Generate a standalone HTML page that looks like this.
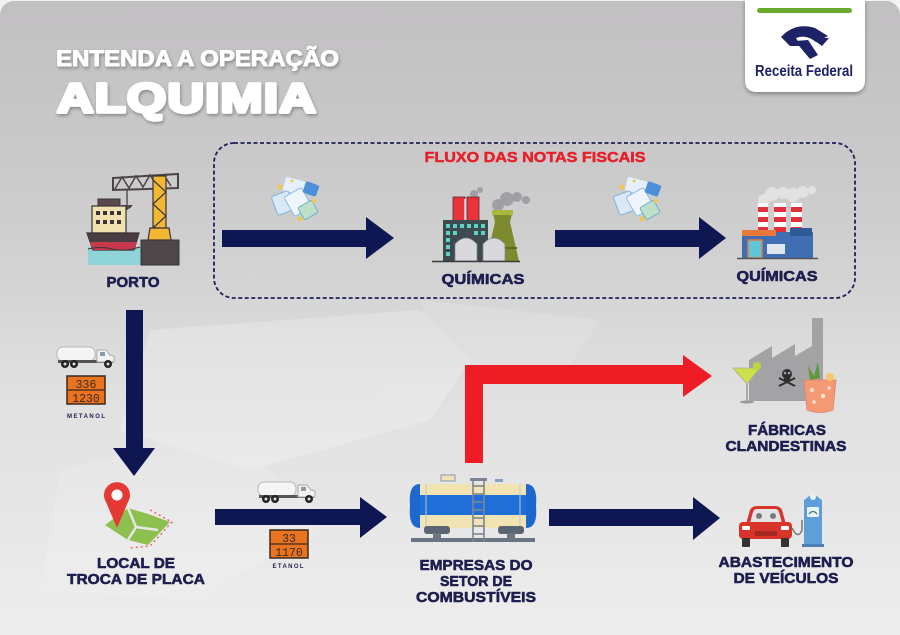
<!DOCTYPE html>
<html><head><meta charset="utf-8"><style>
html,body{margin:0;padding:0;width:900px;height:635px;overflow:hidden;background:#f2f2f2}
svg{display:block}
text{font-family:"Liberation Sans",sans-serif;font-weight:bold}
.l{fill:#1e1f4f;stroke:#1e1f4f;stroke-width:0.6;stroke-linejoin:round}
</style></head><body>
<svg width="900" height="635" viewBox="0 0 900 635" xmlns="http://www.w3.org/2000/svg">
<defs>
<linearGradient id="bg" x1="0" y1="0" x2="0" y2="1">
<stop offset="0" stop-color="#c1bfc1"/>
<stop offset="0.35" stop-color="#cfcecf"/>
<stop offset="0.6" stop-color="#e0e0e0"/>
<stop offset="1" stop-color="#eeeeee"/>
</linearGradient>
<filter id="ts" x="-10%" y="-30%" width="120%" height="160%"><feDropShadow dx="1" dy="2" stdDeviation="1.5" flood-color="#000" flood-opacity="0.3"/></filter>
<filter id="cs" x="-20%" y="-20%" width="140%" height="150%"><feDropShadow dx="0" dy="2" stdDeviation="2" flood-color="#000" flood-opacity="0.35"/></filter>
</defs>
<rect width="900" height="635" fill="#f2f2f2"/>
<rect x="0" y="1" width="900" height="650" rx="14" fill="url(#bg)"/>

<!-- faint watermark -->
<g fill="#ffffff" opacity="0.22">
<path d="M150,330 L420,310 L470,360 L430,420 L250,470 L120,430 Z"/>
<path d="M420,300 L600,320 L560,380 L440,360 Z" opacity="0.6"/>
<path d="M60,470 L220,430 L330,520 L200,600 L40,590 Z" opacity="0.5"/>
</g>

<!-- Title -->
<g filter="url(#ts)" fill="#fff" stroke="#fff" stroke-linejoin="round">
<text x="56" y="66" font-size="22" stroke-width="0.9" textLength="283" lengthAdjust="spacingAndGlyphs">ENTENDA A OPERAÇÃO</text>
<text x="57" y="112" font-size="41" stroke-width="3.4" textLength="260" lengthAdjust="spacingAndGlyphs" letter-spacing="1">ALQUIMIA</text>
</g>

<!-- Logo card -->
<path d="M745,0 H865 V80 Q865,92 853,92 H757 Q745,92 745,80 Z" fill="#fff" filter="url(#cs)"/>
<rect x="757" y="8" width="95" height="5" rx="2.5" fill="#6aab2e"/>
<g fill="#1e2266">
<path d="M781,37 Q795,22 815,28 L828,36 L816,42 Q806,34 796,38 L801,46 L790,46 Z"/>
<path d="M795,41 L808,40 L818,55 L810,59 Z"/>
<path d="M811,38 L829,38 L822,46 Z"/>
</g>
<text x="804" y="76" font-size="16" fill="#1e2266" text-anchor="middle" textLength="98" lengthAdjust="spacingAndGlyphs">Receita Federal</text>

<!-- Dashed box -->
<rect x="214" y="143" width="641" height="155" rx="20" fill="none" stroke="#1e2255" stroke-width="1.8" stroke-dasharray="4 2.5"/>
<text x="535" y="162" font-size="14.5" fill="#e8202a" stroke="#e8202a" stroke-width="0.5" text-anchor="middle" textLength="221" lengthAdjust="spacingAndGlyphs">FLUXO DAS NOTAS FISCAIS</text>

<!-- Arrows navy -->
<g fill="#0f1752">
<polygon points="222,230 366,230 366,217 394,238 366,259 366,247 222,247"/>
<polygon points="555,230 699,230 699,217 726,238 699,259 699,247 555,247"/>
<polygon points="126,310 143,310 143,448 155,448 134,476 113,448 126,448"/>
<polygon points="215,509 360,509 360,497 387,517 360,538 360,525 215,525"/>
<polygon points="549,509 693,509 693,497 720,518 693,540 693,526 549,526"/>
</g>
<!-- Red arrow -->
<polygon points="465,463 465,365 683,365 683,355 712,376 683,397 683,384 483,384 483,463" fill="#ee1c25"/>

<!-- Document icons -->
<g>
<g transform="translate(270,175)">
<rect x="14" y="4" width="20" height="14" rx="2" fill="#e6f0fa" transform="rotate(15 24 11)"/>
<rect x="4" y="18" width="18" height="20" rx="2" fill="#dbe9f7" stroke="#7fb2dd" stroke-width="1" transform="rotate(-20 13 28)"/>
<rect x="18" y="16" width="20" height="22" rx="2" fill="#eef5fc" stroke="#8abbe2" stroke-width="1" transform="rotate(-30 28 27)"/>
<rect x="30" y="28" width="16" height="14" rx="2" fill="#bfe0c8" stroke="#6cb0c8" stroke-width="1" transform="rotate(-30 38 35)"/>
<rect x="34" y="8" width="14" height="12" rx="2" fill="#4a8fd8" transform="rotate(20 41 14)"/>
<circle cx="10" cy="12" r="2.5" fill="#f3c74f"/>
<circle cx="30" cy="44" r="2.5" fill="#f3c74f"/>
<circle cx="44" cy="26" r="2" fill="#f3c74f"/>
<circle cx="22" cy="6" r="1.5" fill="#f3c74f"/>
</g>
<g transform="translate(612,175)">
<rect x="14" y="4" width="20" height="14" rx="2" fill="#e6f0fa" transform="rotate(15 24 11)"/>
<rect x="4" y="18" width="18" height="20" rx="2" fill="#dbe9f7" stroke="#7fb2dd" stroke-width="1" transform="rotate(-20 13 28)"/>
<rect x="18" y="16" width="20" height="22" rx="2" fill="#eef5fc" stroke="#8abbe2" stroke-width="1" transform="rotate(-30 28 27)"/>
<rect x="30" y="28" width="16" height="14" rx="2" fill="#bfe0c8" stroke="#6cb0c8" stroke-width="1" transform="rotate(-30 38 35)"/>
<rect x="34" y="8" width="14" height="12" rx="2" fill="#4a8fd8" transform="rotate(20 41 14)"/>
<circle cx="10" cy="12" r="2.5" fill="#f3c74f"/>
<circle cx="30" cy="44" r="2.5" fill="#f3c74f"/>
<circle cx="44" cy="26" r="2" fill="#f3c74f"/>
<circle cx="22" cy="6" r="1.5" fill="#f3c74f"/>
</g>
</g>

<!-- PORTO icon -->
<g>
<rect x="88" y="247" width="56" height="18" fill="#8fd4d8"/>
<rect x="141" y="240" width="38" height="25" fill="#4d474a" stroke="#3a3336" stroke-width="1"/>
<path d="M113,178 L178,174 L178,188 L113,190 Z" fill="none" stroke="#4b4547" stroke-width="2"/>
<path d="M115,189 L122,177 L129,188 L136,176 L143,187 L150,175 L157,186 L164,175 L171,186" fill="none" stroke="#4b4547" stroke-width="1.5"/>
<rect x="153" y="176" width="13" height="52" fill="#f3b833" stroke="#3a3336" stroke-width="1.2"/>
<path d="M153,180 L166,192 L153,204 L166,216 L153,228" fill="none" stroke="#3a3336" stroke-width="1.2"/>
<path d="M150,228 L169,228 L171,240 L148,240 Z" fill="#f3b833" stroke="#3a3336" stroke-width="1.2"/>
<line x1="127" y1="190" x2="127" y2="210" stroke="#3a3336" stroke-width="1.2"/>
<path d="M122,205 Q128,212 132,205" fill="#5a4a4c" stroke="#3a3336" stroke-width="1"/>
<rect x="98" y="199" width="22" height="7" fill="#5a4a4c" stroke="#3a3336" stroke-width="1"/>
<rect x="92" y="206" width="34" height="27" fill="#f1e0b0" stroke="#3a3336" stroke-width="1.2"/>
<g fill="#3a3336">
<rect x="96" y="211" width="4" height="4"/><rect x="103" y="211" width="4" height="4"/><rect x="110" y="211" width="4" height="4"/><rect x="117" y="211" width="4" height="4"/>
<rect x="96" y="220" width="4" height="4"/><rect x="103" y="220" width="4" height="4"/><rect x="110" y="220" width="4" height="4"/><rect x="117" y="220" width="4" height="4"/>
</g>
<path d="M87,233 L139,233 L134,250 L93,250 Z" fill="#4a3e42" stroke="#3a3336" stroke-width="1.2"/>
<path d="M90,242 L137,242 L134,250 L93,250 Z" fill="#c73a4d"/>
<path d="M88,249 Q100,246 112,249 Q124,252 140,247" fill="none" stroke="#3a3336" stroke-width="1"/>
</g>
<text class="l" x="133" y="287" font-size="15" text-anchor="middle" textLength="53" lengthAdjust="spacingAndGlyphs">PORTO</text>

<!-- Factory 1 -->
<g>
<g fill="#9c9ca0" opacity="0.9">
<circle cx="498" cy="205" r="6"/><circle cx="507" cy="199" r="7"/><circle cx="517" cy="197" r="5"/><circle cx="526" cy="200" r="4"/><circle cx="474" cy="194" r="4"/><circle cx="480" cy="190" r="3"/>
</g>
<rect x="453" y="197" width="12" height="24" fill="#e8323c" stroke="#5a2a2a" stroke-width="0.8"/>
<rect x="467" y="197" width="12" height="24" fill="#e8323c" stroke="#5a2a2a" stroke-width="0.8"/>
<line x1="465" y1="199" x2="465" y2="221" stroke="#ddd" stroke-width="1.5"/>
<rect x="443" y="220" width="45" height="41" fill="#3d4a4f"/>
<g fill="#5fd3c2">
<rect x="446" y="224" width="4" height="4"/><rect x="453" y="224" width="4" height="4"/><rect x="460" y="224" width="4" height="4"/><rect x="467" y="224" width="4" height="4"/><rect x="474" y="224" width="4" height="4"/><rect x="481" y="224" width="4" height="4"/>
<rect x="446" y="231" width="4" height="4"/><rect x="453" y="231" width="4" height="4"/><rect x="474" y="231" width="4" height="4"/><rect x="481" y="231" width="4" height="4"/>
<rect x="446" y="238" width="4" height="4"/><rect x="446" y="245" width="4" height="4"/><rect x="446" y="252" width="4" height="4"/>
</g>
<path d="M492,210 L513,210 L510,222 L519,261 L486,261 L495,222 Z" fill="#7d8b2e"/>
<rect x="492" y="210" width="21" height="5" fill="#a8b83e"/>
<line x1="489" y1="248" x2="517" y2="248" stroke="#5d6a20" stroke-width="2"/>
<path d="M455,261 L455,244 Q466,232 477,244 L477,261 Z" fill="#d9d9dd" stroke="#888" stroke-width="0.8"/>
<path d="M483,261 L483,244 Q494,232 505,244 L505,261 Z" fill="#d9d9dd" stroke="#888" stroke-width="0.8"/>
<line x1="432" y1="261.5" x2="520" y2="261.5" stroke="#3a3a3a" stroke-width="1.5"/>
</g>
<text class="l" x="483" y="284" font-size="15" text-anchor="middle" textLength="83" lengthAdjust="spacingAndGlyphs">QUÍMICAS</text>

<!-- Factory 2 -->
<g>
<g fill="#e2e2e4">
<circle cx="764" cy="200" r="6"/><circle cx="772" cy="194" r="7"/><circle cx="783" cy="193" r="6"/><circle cx="793" cy="195" r="7"/><circle cx="803" cy="192" r="6"/><circle cx="812" cy="190" r="4"/>
</g>
<g>
<rect x="758" y="203" width="10" height="30" fill="#fff"/>
<rect x="758" y="207" width="10" height="5" fill="#e0303a"/><rect x="758" y="217" width="10" height="5" fill="#e0303a"/><rect x="758" y="227" width="10" height="5" fill="#e0303a"/>
<rect x="774" y="203" width="12" height="32" fill="#fff"/>
<rect x="774" y="207" width="12" height="5" fill="#e0303a"/><rect x="774" y="217" width="12" height="5" fill="#e0303a"/><rect x="774" y="227" width="12" height="5" fill="#e0303a"/>
<rect x="791" y="203" width="11" height="30" fill="#fff"/>
<rect x="791" y="207" width="11" height="5" fill="#e0303a"/><rect x="791" y="217" width="11" height="5" fill="#e0303a"/><rect x="791" y="227" width="11" height="5" fill="#e0303a"/>
</g>
<rect x="742" y="232" width="71" height="26" fill="#3f6fb2"/>
<rect x="742" y="230" width="34" height="6" fill="#e8793a"/>
<rect x="790" y="228" width="22" height="8" fill="#2f5a98"/>
<rect x="748" y="240" width="14" height="18" fill="#5ec6d8" stroke="#e8793a" stroke-width="1.5"/>
<rect x="767" y="244" width="18" height="10" fill="#dfe6ee"/>
<line x1="737" y1="258.5" x2="818" y2="258.5" stroke="#555" stroke-width="1.5"/>
</g>
<text class="l" x="777" y="281" font-size="15" text-anchor="middle" textLength="81" lengthAdjust="spacingAndGlyphs">QUÍMICAS</text>

<!-- Truck 1 + plate -->
<g>
<rect x="57" y="347" width="38" height="14" rx="6" fill="#f5f5f5" stroke="#b8b8b8" stroke-width="1"/>
<rect x="58" y="360" width="55" height="3" fill="#555"/>
<path d="M97,362 L97,350 L106,350 L110,355 L114,356 L114,362 Z" fill="#f2f2f2" stroke="#aaa" stroke-width="1"/>
<rect x="100" y="352" width="5" height="4" fill="#8a9aa8"/>
<g fill="#222"><circle cx="65" cy="364" r="4"/><circle cx="74" cy="364" r="4"/><circle cx="108" cy="364" r="4"/></g>
<g fill="#ddd"><circle cx="65" cy="364" r="1.5"/><circle cx="74" cy="364" r="1.5"/><circle cx="108" cy="364" r="1.5"/></g>
</g>
<rect x="67" y="376" width="38" height="28" fill="#e9731f" stroke="#3b2a20" stroke-width="1.5"/>
<line x1="67" y1="390" x2="105" y2="390" stroke="#3b2a20" stroke-width="1.2"/>
<text x="86" y="388" font-size="11.5" fill="#3b2a20" text-anchor="middle" style="font-family:'Liberation Mono',monospace;font-weight:normal">336</text>
<text x="86" y="402" font-size="11.5" fill="#3b2a20" text-anchor="middle" style="font-family:'Liberation Mono',monospace;font-weight:normal">1230</text>
<text x="86" y="418" font-size="6" fill="#1e1f4f" text-anchor="middle" textLength="38" lengthAdjust="spacing">METANOL</text>

<!-- Location icon -->
<g>
<path d="M105,525 L128,508 L148,514 L170,522 L148,545 L128,540 Z" fill="#8dc04e"/>
<path d="M128,508 L136,527 L128,540 M136,527 L158,530" fill="none" stroke="#e6e6e6" stroke-width="2.5"/>
<path d="M150,510 L172,522 L150,546 L130,548" fill="none" stroke="#e85a5a" stroke-width="1.3" stroke-dasharray="2 3"/>
<path d="M117,528 L106,502 A13,13 0 1 1 128,502 Z" fill="#e53a33"/>
<circle cx="117" cy="495" r="5.5" fill="#fff"/>
</g>
<text class="l" x="136" y="568" font-size="15" text-anchor="middle" textLength="78" lengthAdjust="spacingAndGlyphs">LOCAL DE</text>
<text class="l" x="136" y="584" font-size="15" text-anchor="middle" textLength="138" lengthAdjust="spacingAndGlyphs">TROCA DE PLACA</text>

<!-- Truck 2 + plate -->
<g transform="translate(201,135)">
<rect x="57" y="347" width="38" height="14" rx="6" fill="#f5f5f5" stroke="#b8b8b8" stroke-width="1"/>
<rect x="58" y="360" width="55" height="3" fill="#555"/>
<path d="M97,362 L97,350 L106,350 L110,355 L114,356 L114,362 Z" fill="#f2f2f2" stroke="#aaa" stroke-width="1"/>
<rect x="100" y="352" width="5" height="4" fill="#8a9aa8"/>
<g fill="#222"><circle cx="65" cy="364" r="4"/><circle cx="74" cy="364" r="4"/><circle cx="108" cy="364" r="4"/></g>
<g fill="#ddd"><circle cx="65" cy="364" r="1.5"/><circle cx="74" cy="364" r="1.5"/><circle cx="108" cy="364" r="1.5"/></g>
</g>
<rect x="270" y="530" width="38" height="28" fill="#e9731f" stroke="#3b2a20" stroke-width="1.5"/>
<line x1="270" y1="544" x2="308" y2="544" stroke="#3b2a20" stroke-width="1.2"/>
<text x="289" y="542" font-size="11.5" fill="#3b2a20" text-anchor="middle" style="font-family:'Liberation Mono',monospace;font-weight:normal">33</text>
<text x="289" y="556" font-size="11.5" fill="#3b2a20" text-anchor="middle" style="font-family:'Liberation Mono',monospace;font-weight:normal">1170</text>
<text x="288" y="568" font-size="6" fill="#1e1f4f" text-anchor="middle" textLength="31" lengthAdjust="spacing">ETANOL</text>

<!-- Tank -->
<g>
<rect x="441" y="475" width="14" height="6" fill="#f1e2b4" stroke="#6a86b0" stroke-width="0.8"/>
<rect x="495" y="479" width="8" height="3" fill="#8aa0bf"/>
<rect x="418" y="484" width="110" height="44" fill="#f2e3b3"/>
<rect x="418" y="495" width="110" height="20" fill="#1f6fd6"/>
<path d="M420,484 Q408,484 410,506 Q408,528 420,528 Z" fill="#1d68cf"/>
<path d="M526,484 Q538,484 536,506 Q538,528 526,528 Z" fill="#1d68cf"/>
<line x1="426" y1="484" x2="426" y2="528" stroke="#b9c6d8" stroke-width="1"/>
<line x1="520" y1="484" x2="520" y2="528" stroke="#b9c6d8" stroke-width="1"/>
<rect x="424" y="526" width="26" height="8" rx="3" fill="#5a6472"/>
<rect x="498" y="526" width="26" height="8" rx="3" fill="#5a6472"/>
<rect x="411" y="538" width="124" height="4" fill="#6a7482"/>
<rect x="433" y="533" width="8" height="6" fill="#6a7482"/><rect x="507" y="533" width="8" height="6" fill="#6a7482"/>
<g stroke="#7b8594" stroke-width="1.6" fill="none">
<line x1="473" y1="479" x2="473" y2="542"/><line x1="484" y1="479" x2="484" y2="542"/>
<line x1="473" y1="486" x2="484" y2="486"/><line x1="473" y1="494" x2="484" y2="494"/><line x1="473" y1="502" x2="484" y2="502"/><line x1="473" y1="510" x2="484" y2="510"/><line x1="473" y1="518" x2="484" y2="518"/><line x1="473" y1="526" x2="484" y2="526"/><line x1="473" y1="534" x2="484" y2="534"/>
</g>
<rect x="470" y="478" width="17" height="3" fill="#7b8594"/>
</g>
<text class="l" x="476" y="570" font-size="15" text-anchor="middle" textLength="113" lengthAdjust="spacingAndGlyphs">EMPRESAS DO</text>
<text class="l" x="476" y="586" font-size="15" text-anchor="middle" textLength="72" lengthAdjust="spacingAndGlyphs">SETOR DE</text>
<text class="l" x="476" y="602" font-size="15" text-anchor="middle" textLength="120" lengthAdjust="spacingAndGlyphs">COMBUSTÍVEIS</text>

<!-- Fabricas clandestinas -->
<g>
<path d="M749,401 L749,360 L772,346 L772,358 L795,344 L795,356 L812,346 L812,318 L823,318 L823,401 Z" fill="#a3a3a6"/>
<g fill="#2e2e30">
<circle cx="787" cy="374" r="5"/>
<rect x="784" y="377" width="6" height="4"/>
<line x1="779" y1="378" x2="795" y2="386" stroke="#2e2e30" stroke-width="2"/>
<line x1="795" y1="378" x2="779" y2="386" stroke="#2e2e30" stroke-width="2"/>
</g>
<g fill="#a3a3a6"><circle cx="785" cy="373" r="1.3"/><circle cx="789" cy="373" r="1.3"/></g>
<path d="M733,368 L760,368 L747,384 Z" fill="#cde04a" stroke="#a8a8a0" stroke-width="0.8"/>
<circle cx="757" cy="366" r="4" fill="#b9d93a"/>
<line x1="747" y1="384" x2="747" y2="401" stroke="#9a9a9a" stroke-width="1.5"/>
<ellipse cx="747" cy="402" rx="7" ry="1.5" fill="#9a9a9a"/>
<path d="M804,380 L836,380 L833,410 Q820,415 807,410 Z" fill="#f39a74" stroke="#e0806a" stroke-width="0.8"/>
<g fill="#fff" opacity="0.7"><circle cx="812" cy="390" r="2"/><circle cx="823" cy="396" r="2.2"/><circle cx="814" cy="402" r="1.8"/><circle cx="829" cy="388" r="1.6"/></g>
<path d="M810,380 L808,366 L814,376 L818,362 L820,378 Z" fill="#5f9a3a"/>
<circle cx="830" cy="377" r="4" fill="#f6c66a"/>
</g>
<text class="l" x="787" y="435" font-size="15" text-anchor="middle" textLength="78" lengthAdjust="spacingAndGlyphs">FÁBRICAS</text>
<text class="l" x="786" y="451" font-size="15" text-anchor="middle" textLength="121" lengthAdjust="spacingAndGlyphs">CLANDESTINAS</text>

<!-- Car and pump -->
<g>
<path d="M746,524 L750,510 Q752,506 757,506 L775,506 Q780,506 782,510 L786,524 Z" fill="#d8342a"/>
<path d="M750,523 L753,512 Q754,509 757,509 L775,509 Q778,509 779,512 L782,523 Z" fill="#e4e4e6"/>
<circle cx="759" cy="516" r="3" fill="#7a7a7e"/><circle cx="773" cy="516" r="3" fill="#7a7a7e"/>
<rect x="739" y="522" width="53" height="17" rx="4" fill="#d8342a"/>
<rect x="742" y="526" width="8" height="4" rx="1" fill="#fff"/>
<rect x="781" y="526" width="8" height="4" rx="1" fill="#fff"/>
<rect x="755" y="531" width="22" height="5" fill="#a52820"/>
<rect x="742" y="538" width="8" height="9" rx="1" fill="#333"/>
<rect x="781" y="538" width="8" height="9" rx="1" fill="#333"/>
<path d="M792,528 Q798,540 802,530 L802,520" fill="none" stroke="#777" stroke-width="1.5"/>
<rect x="804" y="499" width="18" height="46" rx="2" fill="#5d9edb"/>
<path d="M805,500 Q813,490 821,500 Z" fill="#5d9edb"/>
<circle cx="813" cy="497" r="3" fill="#e8f2fb"/>
<rect x="807" y="507" width="12" height="10" rx="1" fill="#e8f2fb"/>
<path d="M809,514 Q813,509 817,514" fill="none" stroke="#3a8a5a" stroke-width="1.3"/>
<rect x="802" y="544" width="22" height="3" fill="#4a7fb8"/>
</g>
<text class="l" x="786" y="567" font-size="15" text-anchor="middle" textLength="135" lengthAdjust="spacingAndGlyphs">ABASTECIMENTO</text>
<text class="l" x="786" y="583" font-size="15" text-anchor="middle" textLength="105" lengthAdjust="spacingAndGlyphs">DE VEÍCULOS</text>
</svg>
</body></html>
